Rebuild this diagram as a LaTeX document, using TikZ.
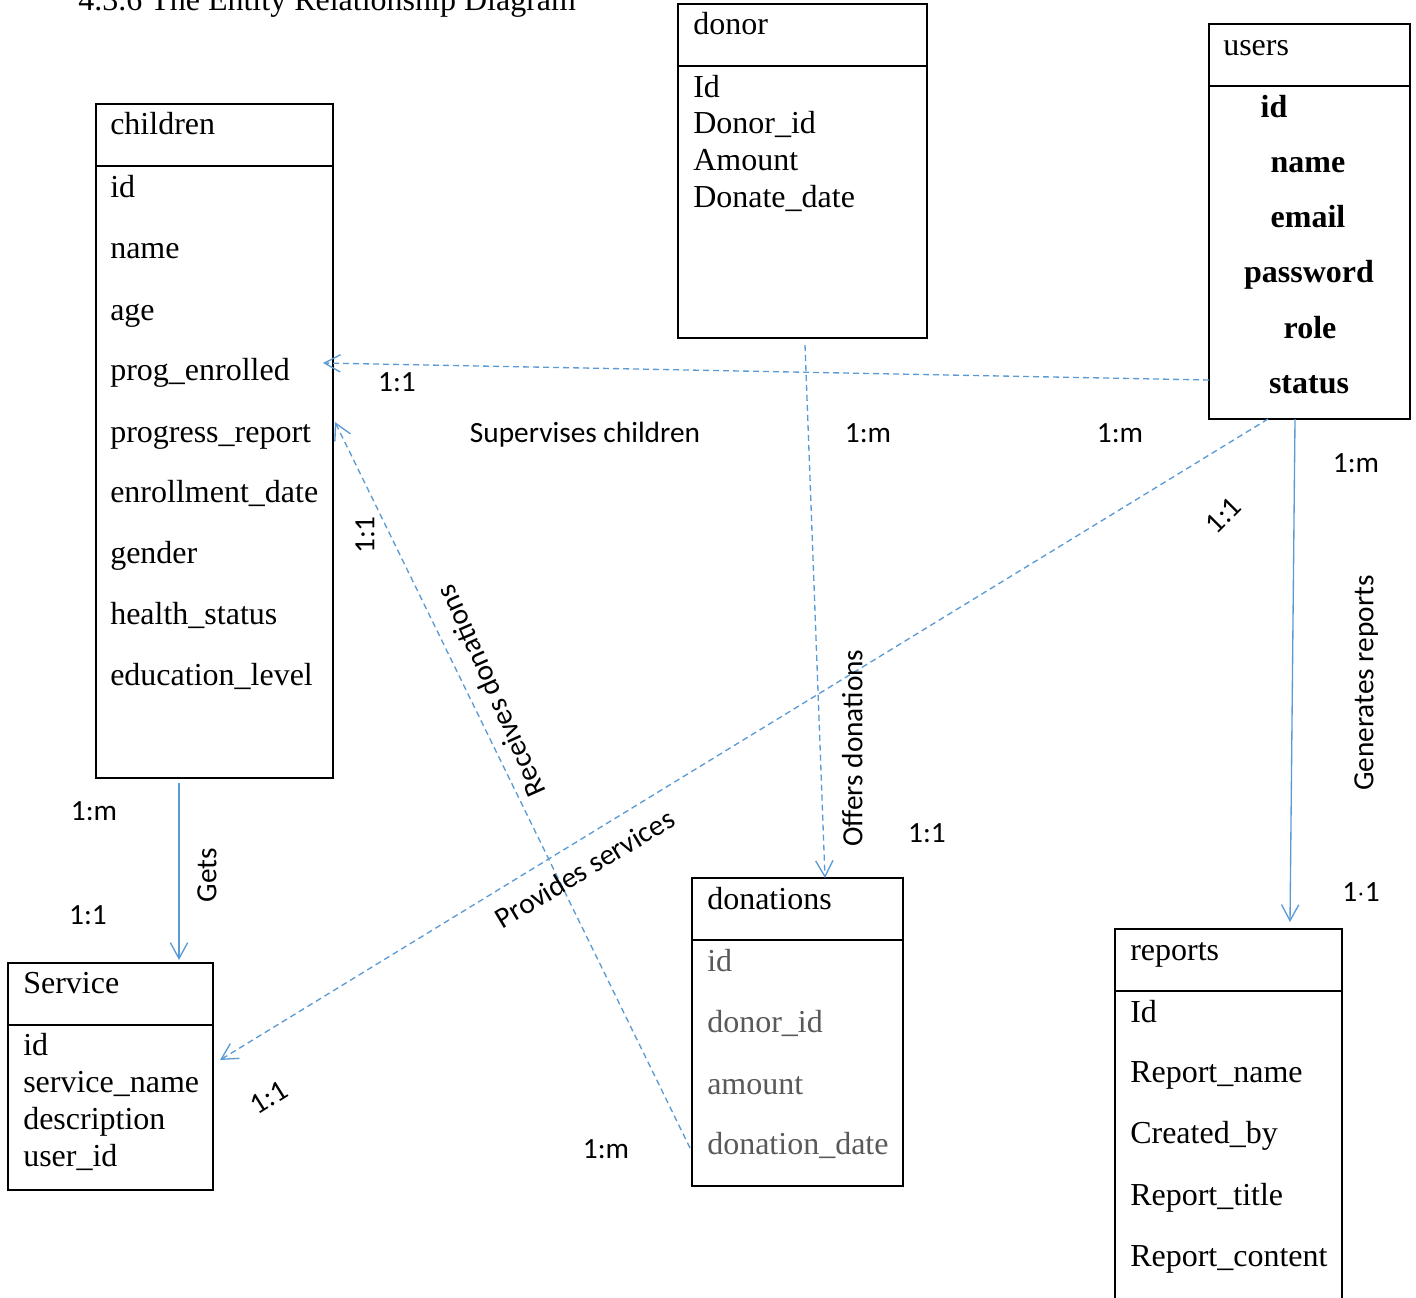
\documentclass[tikz,border=0pt]{standalone}
\usepackage{fontspec}
\setmainfont{Liberation Serif}
\newfontfamily\lblfont{Carlito}
\usetikzlibrary{arrows.meta,calc}
\definecolor{conn}{HTML}{5B9BD5}
\definecolor{attrgrey}{HTML}{595959}
\begin{document}
\begin{tikzpicture}[x=0.75pt,y=-0.75pt,
  ent/.style={draw, line width=1.5pt, anchor=north west, inner sep=0pt, outer sep=0pt},
  attr/.style={anchor=west, inner sep=0pt, yshift=-1.5pt, font=\fontsize{24}{28}\selectfont, text height=17pt, text depth=5pt},
  battr/.style={anchor=center, inner sep=0pt, yshift=-1.5pt, font=\fontsize{24}{28}\selectfont\bfseries, text height=17pt, text depth=5pt},
  lbl/.style={inner sep=0pt, font=\lblfont\fontsize{22}{26}\selectfont, text height=15pt, text depth=4pt},
  dconn/.style={draw=conn, line width=1pt, dash pattern=on 4.5pt off 3pt, -{Straight Barb[length=12pt,width=13pt,line width=1pt]}},
  sconn/.style={draw=conn, line width=1pt, -{Straight Barb[length=12pt,width=13pt,line width=1pt]}},
  hdr/.style={line width=1.5pt}
]
\useasboundingbox (0,0) rectangle (1416,1297);
\clip (0,0) rectangle (1416,1297);

% title
\node[anchor=base west, inner sep=0pt, font=\fontsize{24}{28}\selectfont] (title) at (78,10) {4.3.6 The Entity Relationship Diagram};

% children
\node[ent, minimum width=177.75pt, minimum height=505.5pt] (children) at (96,104) {};
\draw[hdr] ($(children.north west)+(0,62)$) -- ($(children.north east)+(0,62)$);
\node[attr] (c0) at (110,124) {children};
\node[attr] (c1) at (110,187) {id};
\node[attr] (c2) at (110,248) {name};
\node[attr] (c3) at (110,310) {age};
\node[attr] (c4) at (110,370) {prog\_enrolled};
\node[attr] (c5) at (110,432) {progress\_report};
\node[attr] (c6) at (110,492) {enrollment\_date};
\node[attr] (c7) at (110,553) {gender};
\node[attr] (c8) at (110,614) {health\_status};
\node[attr] (c9) at (110,675) {education\_level};

% donor
\node[ent, minimum width=186.75pt, minimum height=250.5pt] (donor) at (678,4) {};
\draw[hdr] ($(donor.north west)+(0,62)$) -- ($(donor.north east)+(0,62)$);
\node[attr] (d0) at (693,24) {donor};
\node[attr] (d1) at (693,87) {Id};
\node[attr] (d2) at (693,123) {Donor\_id};
\node[attr] (d3) at (693,160) {Amount};
\node[attr] (d4) at (693,197) {Donate\_date};

% users
\node[ent, minimum width=150.75pt, minimum height=296.25pt] (users) at (1209,24) {};
\draw[hdr] ($(users.north west)+(0,62)$) -- ($(users.north east)+(0,62)$);
\node[attr] (u0) at (1223,45) {users};
\node[battr] (u1) at (1274,107) {id};
\node[battr] (u2) at (1308,162) {name};
\node[battr] (u3) at (1308,217) {email};
\node[battr] (u4) at (1309,272) {password};
\node[battr] (u5) at (1310,328) {role};
\node[battr] (u6) at (1309,383) {status};

% Service
\node[ent, minimum width=153.75pt, minimum height=170.25pt] (service) at (8,963) {};
\draw[hdr] ($(service.north west)+(0,62)$) -- ($(service.north east)+(0,62)$);
\node[attr] (s0) at (23,983) {Service};
\node[attr] (s1) at (23,1045) {id};
\node[attr] (s2) at (23,1082) {service\_name};
\node[attr] (s3) at (23,1119) {description};
\node[attr] (s4) at (23,1156) {user\_id};

% donations
\node[ent, minimum width=158.25pt, minimum height=231pt] (donations) at (692,878) {};
\draw[hdr] ($(donations.north west)+(0,62)$) -- ($(donations.north east)+(0,62)$);
\node[attr] (n0) at (707,899) {donations};
\node[attr, text=attrgrey] (n1) at (707,961) {id};
\node[attr, text=attrgrey] (n2) at (707,1022) {donor\_id};
\node[attr, text=attrgrey] (n3) at (707,1084) {amount};
\node[attr, text=attrgrey] (n4) at (707,1144) {donation\_date};

% reports
\node[ent, minimum width=170.25pt, minimum height=293.25pt] (reports) at (1115,929) {};
\draw[hdr] ($(reports.north west)+(0,62)$) -- ($(reports.north east)+(0,62)$);
\node[attr] (r0) at (1130,950) {reports};
\node[attr] (r1) at (1130,1012) {Id};
\node[attr] (r2) at (1130,1072) {Report\_name};
\node[attr] (r3) at (1130,1133) {Created\_by};
\node[attr] (r4) at (1130,1195) {Report\_title};
\node[attr] (r5) at (1130,1256) {Report\_content};

% connectors
\draw[dconn] ($(users.south west)+(0,-39)$) -- ($(children.north east)+(-10,259)$);
\draw[dconn] ($(donor.south west)+(127,7)$) -- ($(donations.north west)+(133,0)$);
\draw[dconn] ($(donations.north west)+(-2,270)$) -- ($(children.north east)+(2,318)$);
\draw[dconn] ($(users.south west)+(59,0)$) -- ($(service.north east)+(7,97)$);
\draw[sconn] ($(users.south west)+(86,0)$) -- ($(reports.north west)+(175,-7)$);
\draw[sconn] ($(children.south west)+(83,5)$) -- ($(service.north west)+(171,-3)$);

% labels
\node[lbl] (l1) at (397,384) {1:1};
\node[lbl] (l2) at (585,435) {Supervises children};
\node[lbl] (l3) at (1120,435) {1:m};
\node[lbl] (l4) at (868,435) {1:m};
\node[lbl, rotate=90] (l5) at (855,748) {Offers donations};
\node[lbl] (l6) at (927,835) {1:1};
\node[lbl, rotate=114] (l7) at (493,690) {Receives donations};
\node[lbl, rotate=90] (l8) at (367,535) {1:1};
\node[lbl] (l9) at (606,1151) {1:m};
\node[lbl, rotate=31] (l10) at (586,871) {Provides services};
\node[lbl, rotate=45] (l11) at (1225,517) {1:1};
\node[lbl, rotate=32] (l12) at (270,1099) {1:1};
\node[lbl, rotate=90] (l13) at (1366,683) {Generates reports};
\node[lbl] (l14) at (1356,465) {1:m};
\node[lbl] (l15) at (1361,894) {1$\cdot$1};
\node[lbl, rotate=90] (l16) at (209,875) {Gets};
\node[lbl] (l17) at (94,813) {1:m};
\node[lbl] (l18) at (88,917) {1:1};
\end{tikzpicture}
\end{document}
